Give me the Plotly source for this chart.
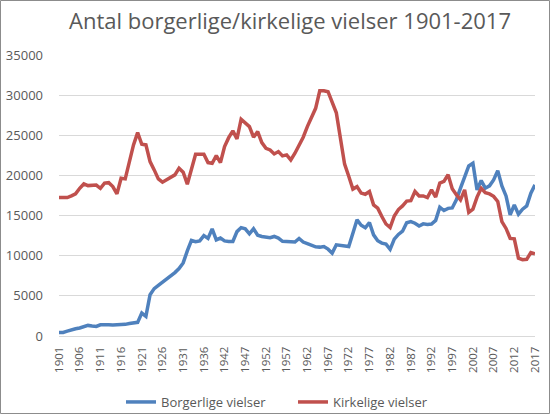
import plotly.graph_objects as go

years = list(range(1901, 1941)) + list(range(1942, 2018))

borgerlige = [450, 450, 600, 780, 900, 1000, 1200, 1320, 1250, 1200,
              1400, 1450, 1400, 1380, 1400, 1380, 1450, 1550, 1620, 1700,
              2860, 2440, 5140, 5900, 6300, 6700, 7100, 7400, 7900, 8400,
              9100, 10600, 11900, 11750, 11850, 12500, 12150, 13350, 11980, 12200,
              11850, 11770, 11770, 13000, 13500, 13350, 12730, 13350, 12550, 12400,
              12350, 12250, 12400, 12200, 11800, 11780, 11750, 11700, 12150, 11700,
              11500, 11250, 11100, 11070, 11150, 10820, 10320, 11360, 11270, 11150,
              11150, 12810, 14470, 13800, 13480, 14130, 12600, 11860, 11570, 11440,
              10800, 12070, 12650, 13050, 14100, 14260, 14050, 13700, 13970, 13900,
              13950, 14400, 16040, 15630, 15900, 15950, 16960, 18410, 19940, 21180,
              21520, 18200, 19360, 18410, 18700, 19440, 20600, 18700, 17450, 15090,
              16330, 15180, 15800, 16210, 17790, 18820]

kirkelige = [17240, 17240, 17240, 17450, 17700, 18400, 18940, 18730, 18730, 18800,
             18400, 19050, 19100, 18610, 17700, 19650, 19570, 21720, 23800, 25330,
             23880, 23800, 21720, 20690, 19570, 19160, 19440, 19780, 20070, 20900,
             20400, 18910, 20900, 22640, 22640, 22640, 21600, 21520, 22470, 21600,
             23590, 24700, 25550, 24550, 27000, 26580, 26080, 24760, 25450, 24090,
             23380, 23180, 22680, 22970, 22430, 22560, 21930, 22770, 23800, 24760,
             26080, 27250, 28360, 30550, 30550, 30430, 29100, 27800, 24600, 21400,
             19900, 18300, 18600, 17800, 17650, 18000, 16330, 15920, 14880, 13950,
             13500, 14950, 15750, 16200, 16800, 16850, 18000, 17450, 17450, 17250,
             18200, 17300, 19050, 19250, 20100, 18350, 17600, 16950, 18200, 15400,
             15800, 17300, 18400, 17850, 17700, 17400, 16750, 14250, 13400, 12150,
             12100, 9700, 9500, 9550, 10400, 10250]

year_labels = [str(y) for y in years]
tick_labels = year_labels[::5]
y_ticks = [0, 5000, 10000, 15000, 20000, 25000, 30000, 35000]

W, H = 550, 414
L, R, T, B = 59, 15, 55, 78
pw, ph = W - L - R, H - T - B

fig = go.Figure()
fig.add_trace(go.Scatter(x=year_labels, y=borgerlige, mode="lines",
                         name="Borgerlige vielser",
                         line=dict(color="#4F81BD", width=3.5)))
fig.add_trace(go.Scatter(x=year_labels, y=kirkelige, mode="lines",
                         name="Kirkelige vielser",
                         line=dict(color="#C0504D", width=3.5)))

fig.update_layout(
    width=W, height=H,
    margin=dict(l=L, r=R, t=T, b=B, autoexpand=False),
    paper_bgcolor="white", plot_bgcolor="white",
    font=dict(family="Open Sans", size=12, color="#595959"),
    title=dict(text="Antal borgerlige/kirkelige vielser 1901-2017",
               x=290 / W, xanchor="center", xref="container",
               y=1 - 21 / H, yanchor="middle", yref="container",
               font=dict(family="Open Sans", size=22, color="#595959")),
    showlegend=True,
    legend=dict(orientation="h", x=(121 - L) / pw, xanchor="left",
                y=-(402 - (T + ph)) / ph, yanchor="middle",
                font=dict(size=13, color="#595959"),
                entrywidth=127, entrywidthmode="pixels",
                bgcolor="rgba(0,0,0,0)"),
    xaxis=dict(type="category", tickmode="array", tickvals=tick_labels,
               ticktext=tick_labels, tickangle=-90, showgrid=False,
               showline=True, linecolor="#d9d9d9", linewidth=1,
               ticks="", zeroline=False, automargin=False,
               ticklabelstandoff=5, tickfont=dict(size=11.5)),
    yaxis=dict(range=[0, 35000], tickvals=y_ticks, tickformat="d",
               showgrid=True, gridcolor="#d9d9d9", gridwidth=1,
               zeroline=False, showline=False, ticks="", automargin=False,
               ticklabelstandoff=15, tickfont=dict(size=13)),
    shapes=[dict(type="rect", xref="paper", yref="paper",
                 x0=(0.5 - L) / pw, x1=(W - 0.5 - L) / pw,
                 y0=-(H - 0.5 - (T + ph)) / ph, y1=1 + (T - 0.5) / ph,
                 line=dict(color="#8c8c8c", width=1), layer="below")],
)

fig.write_html("out.html",
               config={"displayModeBar": False},
               post_script="document.body.style.margin='0px';"
                           "document.body.style.overflow='hidden';")
